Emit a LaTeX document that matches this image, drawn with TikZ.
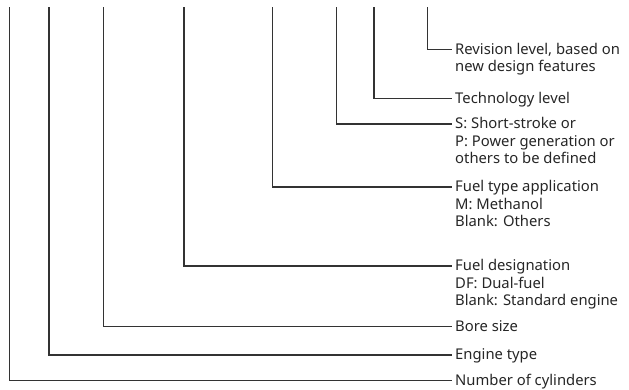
\documentclass[tikz,border=0pt]{standalone}
\usepackage{fontspec}
\setmainfont{Noto Sans}
\begin{document}
\begin{tikzpicture}[x=1pt,y=-1pt,
  conn/.style={draw=black!80, line width=1.3pt},
  lbl/.style={anchor=north west, inner sep=0pt, align=left,
    font=\fontsize{14.8}{17.2}\selectfont, text=black!85}]
\useasboundingbox (0,0) rectangle (629,389);
% tops of the leader lines
\coordinate (t1) at (9.5,7);
\coordinate (t2) at (49,7);
\coordinate (t3) at (103.5,7);
\coordinate (t4) at (184,7);
\coordinate (t5) at (272.3,7);
\coordinate (t6) at (336.7,7);
\coordinate (t7) at (374,7);
\coordinate (t8) at (427.3,7);
% labels
\node[lbl] (l8) at (455,49.3-6.5) {Revision level, based on\\new design features};
\node[lbl] (l7) at (455,98.3-6.5) {Technology level};
\node[lbl] (l6) at (455,124-6.5) {S: Short-stroke or\\P: Power generation or\\others to be defined};
\node[lbl] (l5) at (455,187-6.5) {Fuel type application\\M: Methanol\\Blank: Others};
\node[lbl] (l4) at (455,266-6.5) {Fuel designation\\DF: Dual-fuel\\Blank: Standard engine};
\node[lbl] (l3) at (455,326.5-6.5) {Bore size};
\node[lbl] (l2) at (455,355-6.5) {Engine type};
\node[lbl] (l1) at (455,380.5-6.5) {Number of cylinders};
% connectors
\foreach \i in {1,...,8}{
  \draw[conn] (t\i) |- ([xshift=-3.5pt,yshift=-6.5pt]l\i.north west);
}
\end{tikzpicture}
\end{document}
